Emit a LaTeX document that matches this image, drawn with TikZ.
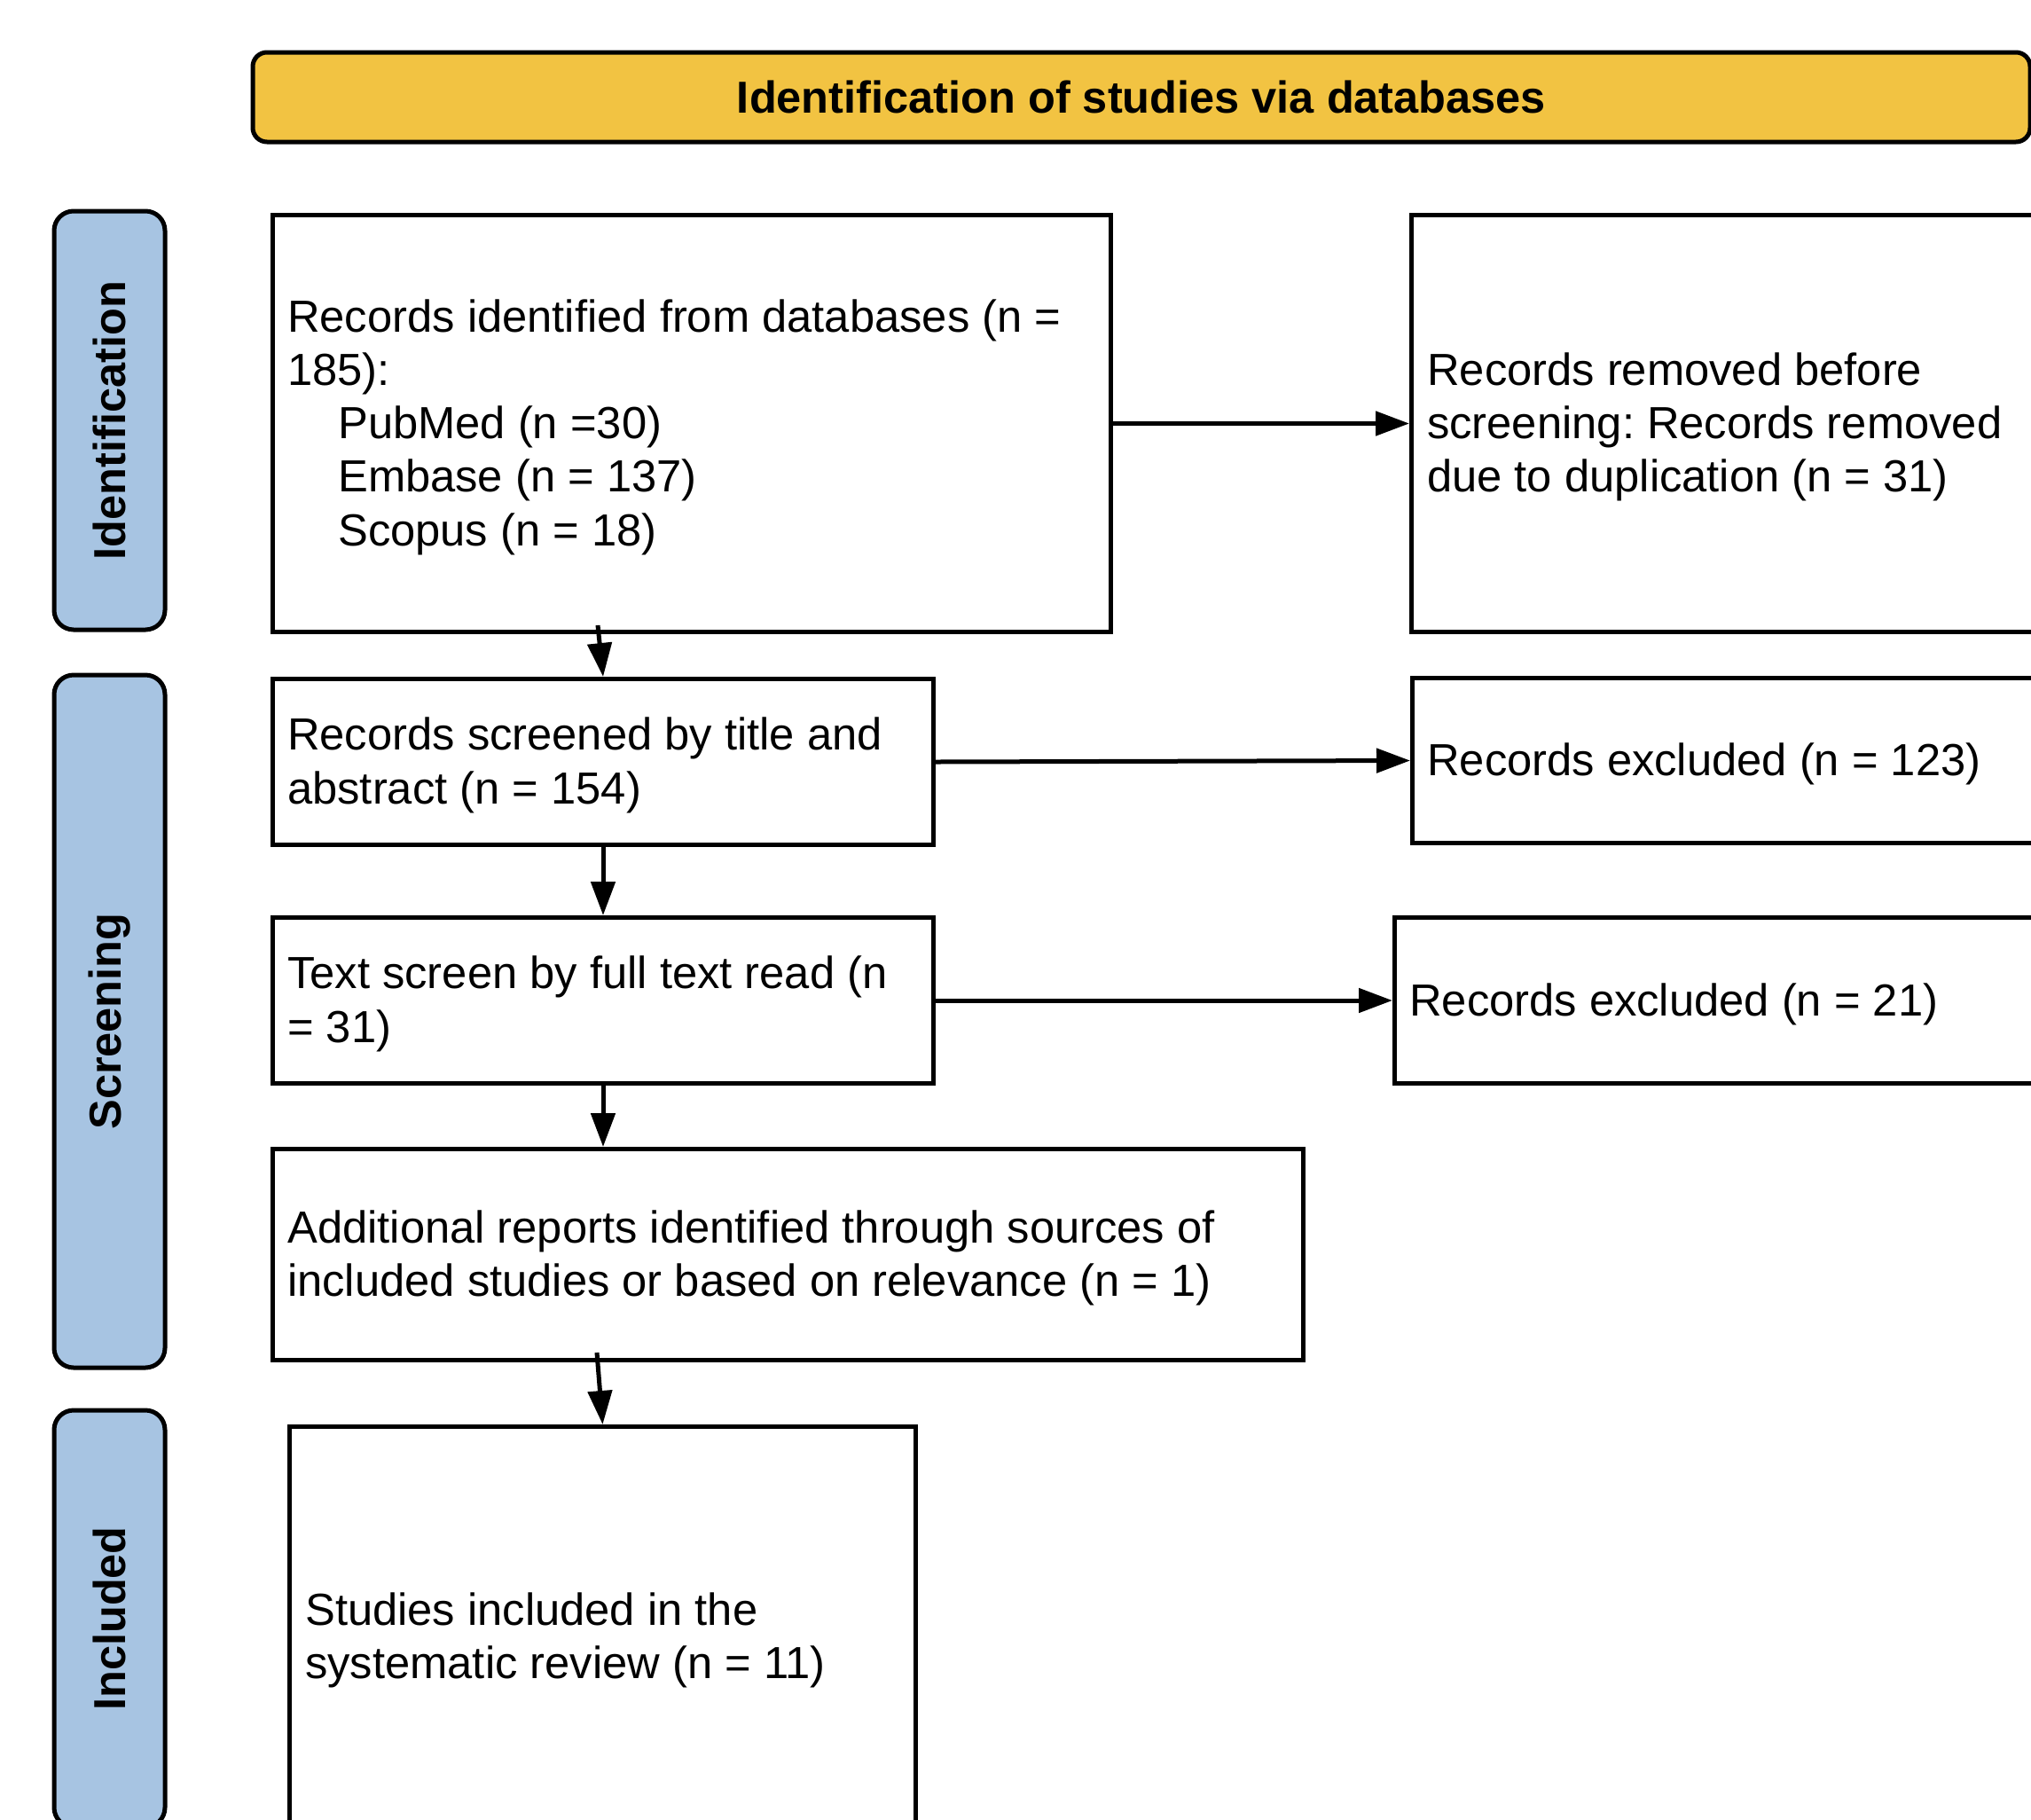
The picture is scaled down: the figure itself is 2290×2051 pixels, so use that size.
\documentclass[tikz,border=0pt]{standalone}
\usepackage{fontspec}
\setmainfont{Liberation Sans}
\usetikzlibrary{arrows.meta}
\definecolor{hdrfill}{RGB}{242,195,66}
\definecolor{stagefill}{RGB}{167,196,226}
\frenchspacing
\begin{document}
\begin{tikzpicture}[x=1pt,y=-1pt,
  box/.style={draw=black, line width=5pt, fill=white, anchor=north west, inner sep=0pt},
  txt/.style={anchor=west, align=left, inner sep=0pt, font=\fontsize{50.7}{60.3}\selectfont},
  stage/.style={draw=black, line width=5pt, fill=stagefill, rounded corners=22pt, rotate=90,
    minimum height=125pt, inner sep=0pt, font=\fontsize{50.5}{60}\selectfont\bfseries},
  hdr/.style={draw=black, line width=5pt, fill=hdrfill, rounded corners=16pt, inner sep=0pt,
    font=\fontsize{50.5}{60}\selectfont\bfseries},
  arr/.style={line width=5pt, -{Triangle[length=38pt,width=27pt]}}]
\useasboundingbox (0,0) rectangle (2290,2051);
\clip (0,0) rectangle (2290,2051);
\fill[white] (0,0) rectangle (2290,2051);

% header
\node[hdr, minimum width=2004pt, minimum height=101pt] (head) at (1287,109.5) {Identification of studies via databases};

% stage labels
\node[stage, minimum width=472pt] (sid) at (123.5,474) {Identification};
\node[stage, minimum width=781pt] (ssc) at (123.5,1151.5) {Screening};
\node[stage, minimum width=470pt] (sin) at (123.5,1825) {Included};

% boxes
\node[box, minimum width=945pt, minimum height=470pt] (ident) at (305,240) {};
\node[txt] (identt) at ([xshift=19pt,yshift=-4pt]ident.west) {Records identified from databases (n =\\185):\\\hspace*{57pt}PubMed (n =30)\\\hspace*{57pt}Embase (n = 137)\\\hspace*{57pt}Scopus (n = 18)};

\node[box, minimum width=760pt, minimum height=470pt] (remov) at (1589,240) {};
\node[txt] (removt) at ([xshift=20pt,yshift=-4pt]remov.west) {Records removed before\\screening: Records removed\\due to duplication (n = 31)};

\node[box, minimum width=745pt, minimum height=187pt] (scr) at (305,763) {};
\node[txt] (scrt) at ([xshift=19pt,yshift=-4pt]scr.west) {Records screened by title and\\abstract (n = 154)};

\node[box, minimum width=760pt, minimum height=186pt] (exa) at (1590,762) {};
\node[txt] (exat) at ([xshift=19pt,yshift=-4pt]exa.west) {Records excluded (n = 123)};

\node[box, minimum width=745pt, minimum height=187pt] (full) at (305,1032) {};
\node[txt] (fullt) at ([xshift=19pt,yshift=-4pt]full.west) {Text screen by full text read (n\\= 31)};

\node[box, minimum width=780pt, minimum height=187pt] (exb) at (1570,1032) {};
\node[txt] (exbt) at ([xshift=19pt,yshift=-4pt]exb.west) {Records excluded (n = 21)};

\node[box, minimum width=1162pt, minimum height=238pt] (add) at (305,1293) {};
\node[txt] (addt) at ([xshift=19pt,yshift=-4pt]add.west) {Additional reports identified through sources of\\included studies or based on relevance (n = 1)};

\node[box, minimum width=706pt, minimum height=474pt] (incl) at (324,1606) {};
\node[txt] (inclt) at ([xshift=20pt,yshift=-4pt]incl.west) {Studies included in the\\systematic review (n = 11)};

% connectors
\coordinate (identout) at (674,705);
\coordinate (addout) at (673,1525);
\draw[arr] (ident.east) -- (remov.west);
\draw[arr] (identout) -- (scr.north);
\draw[arr] (scr.east) -- (exa.west);
\draw[arr] (scr.south) -- (full.north);
\draw[arr] (full.east) -- (exb.west);
\draw[arr] (full.south) -- (full.south |- add.north);
\draw[arr] (addout) -- (incl.north);
\end{tikzpicture}
\end{document}
